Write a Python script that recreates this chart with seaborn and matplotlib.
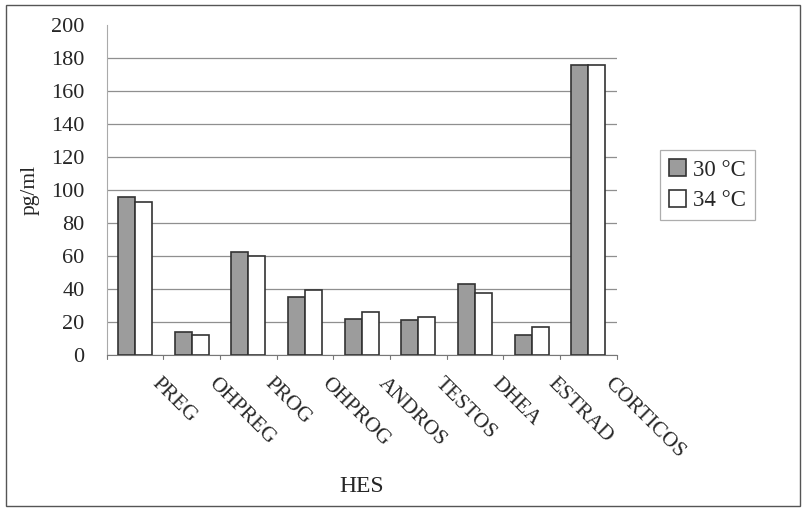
import numpy as np
import matplotlib
matplotlib.use("Agg")
import matplotlib.pyplot as plt
import matplotlib.transforms as mtransforms
import seaborn as sns
import pandas as pd
from matplotlib.patches import Rectangle

# Data
hormones = ["PREG", "OHPREG", "PROG", "OHPROG", "ANDROS", "TESTOS", "DHEA", "ESTRAD", "CORTICOS"]
temp_30 = [95.8, 14.1, 62.2, 35.4, 21.8, 21.2, 42.8, 12.1, 175.8]
temp_34 = [92.6, 12.1, 60.0, 39.4, 26.2, 23.2, 37.4, 16.8, 175.8]
series = ["30 °C", "34 °C"]

df = pd.DataFrame({
    "HES": hormones * 2,
    "pg/ml": temp_30 + temp_34,
    "temp": [series[0]] * len(hormones) + [series[1]] * len(hormones),
})

sns.set_style("white")
plt.rcParams["font.family"] = ["Liberation Serif", "DejaVu Serif"]

fig = plt.figure(figsize=(8.03, 5.19), dpi=100)
ax = fig.add_axes([0.133, 0.316, 0.635, 0.636])

sns.barplot(data=df, x="HES", y="pg/ml", hue="temp", hue_order=series,
            palette=["#9c9c9c", "white"], width=0.6, edgecolor="#333333",
            linewidth=1.2, ax=ax, zorder=3)

ax.set_ylim(0, 200)
ax.set_yticks(np.arange(0, 201, 20))
ax.tick_params(axis="y", labelsize=16, length=5, color="#999999", pad=11)
ax.set_xlim(-0.5, len(hormones) - 0.5)
ax.set_xticks(np.arange(len(hormones)))
ax.set_xticklabels(hormones, rotation=-45, ha="left", va="top",
                   rotation_mode="anchor", fontsize=15.5)
ax.tick_params(axis="x", length=0, pad=14)
shift = mtransforms.ScaledTranslation(26 / 100, 0, fig.dpi_scale_trans)
for lbl in ax.get_xticklabels():
    lbl.set_transform(lbl.get_transform() + shift)
# boundary ticks between categories
for b in np.arange(-0.5, len(hormones), 1.0):
    ax.plot([b, b], [0, -2.5], color="#777777", lw=0.8, clip_on=False)

ax.yaxis.grid(True, color="#8f8f8f", lw=0.9, zorder=0)
ax.set_axisbelow(True)
for gl in ax.get_ygridlines()[-1:]:
    gl.set_visible(False)

sns.despine(ax=ax, top=True, right=True)
ax.spines["left"].set_color("#aaaaaa")
ax.spines["bottom"].set_color("#777777")

ax.set_xlabel("HES", fontsize=17)
ax.set_ylabel("pg/ml", fontsize=15.5)
ax.xaxis.set_label_coords(0.5, -0.367)
ax.yaxis.set_label_coords(-0.132, 0.5)

leg = ax.legend(loc="center left", bbox_to_anchor=(1.085, 0.514), frameon=True,
                fontsize=16.5, handlelength=0.75, handleheight=0.75,
                handletextpad=0.3, borderpad=0.4, labelspacing=0.4,
                borderaxespad=0, fancybox=False)
leg.get_frame().set_edgecolor("#999999")
leg.get_frame().set_linewidth(0.9)

fig.patches.append(Rectangle((0.008, 0.025), 0.988, 0.965, transform=fig.transFigure,
                             fill=False, edgecolor="#555555", lw=1.0))

fig.savefig("out.png", dpi=100)
